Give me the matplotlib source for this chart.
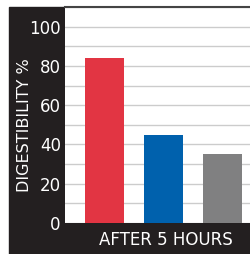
import numpy as np
import matplotlib.pyplot as plt
from matplotlib.patches import Rectangle

# Data
groups = ["A", "B", "C"]
digestibility = [84, 45, 35]
bar_colors = ["#e23543", "#0061ad", "#808081"]
y_ticks = [0, 20, 40, 60, 80, 100]
x_label = "AFTER 5 HOURS"
y_label = "DIGESTIBILITY %"

W, H = 250, 254
fig = plt.figure(figsize=(W / 100, H / 100), dpi=100)
fig.patch.set_facecolor("white")

# black frame behind the plot
fig.patches.append(Rectangle((9 / W, 0), 1 - 9 / W, (H - 7) / H,
                             transform=fig.transFigure, color="#231f20", zorder=-1))

ax = fig.add_axes([65 / W, (H - 223) / H, (W - 65) / W, (223 - 7) / H])
ax.set_zorder(2)
ax.set_facecolor("white")
x = np.arange(len(groups))
ax.bar(x, digestibility, width=0.66, color=bar_colors, zorder=3)
ax.set_xlim(-0.66, 2.46)
ax.set_ylim(0, 110)
ax.set_yticks(y_ticks)
ax.set_yticks(np.arange(0, 111, 10), minor=True)
ax.grid(axis="y", which="both", color="#cccccc", linewidth=1, zorder=0)
ax.set_xticks([])
ax.tick_params(axis="y", which="both", length=0, colors="white", labelsize=12, pad=3)
for s in ["left", "right", "bottom"]:
    ax.spines[s].set_visible(False)
ax.spines["top"].set_color("#444444")
ax.spines["top"].set_linewidth(1.5)

fig.text(166 / W, (H - 240) / H, x_label, color="white", fontsize=12,
         ha="center", va="center", family=["Liberation Sans Narrow", "DejaVu Sans"])
fig.text(25 / W, (H - 125) / H, y_label, color="white", fontsize=11.5,
         rotation=90, ha="center", va="center", family=["Liberation Sans Narrow", "DejaVu Sans"])

fig.savefig("out.png", dpi=100)
